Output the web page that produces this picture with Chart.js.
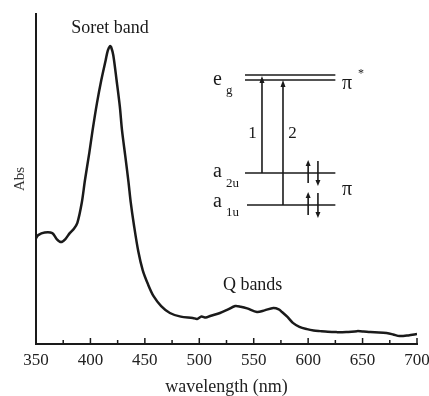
<!DOCTYPE html>
<html>
<head>
<meta charset="utf-8">
<script src="https://cdn.jsdelivr.net/npm/chart.js@4.4.1/dist/chart.umd.min.js"></script>
<style>
  html, body { margin: 0; padding: 0; background: #fff; }
  #wrap { width: 429px; height: 396px; }
</style>
</head>
<body>
<div id="wrap"><canvas id="uvChart"></canvas></div>
<script>
// UV-vis spectrum (Abs in arbitrary units, 0..1)
const wavelengths = [350, 352, 358, 365, 369, 373, 377, 381, 385, 388, 392, 395, 399, 402, 406, 410, 414, 416, 418, 419, 421, 424, 427, 429, 432, 435, 437, 440, 444, 448, 453, 458, 465, 473, 483, 494, 498, 502, 506, 510, 519, 526, 533, 538, 544, 553, 560, 568, 573, 576, 581, 586, 592, 599, 605, 611, 618, 626, 635, 645, 651, 657, 665, 672, 678, 684, 692, 700];
const absValues = [0.32, 0.33, 0.338, 0.336, 0.318, 0.309, 0.318, 0.336, 0.35, 0.367, 0.427, 0.497, 0.58, 0.648, 0.73, 0.80, 0.86, 0.89, 0.903, 0.9, 0.875, 0.80, 0.72, 0.648, 0.57, 0.49, 0.43, 0.36, 0.28, 0.224, 0.18, 0.145, 0.115, 0.094, 0.083, 0.079, 0.076, 0.083, 0.08, 0.085, 0.094, 0.104, 0.115, 0.113, 0.108, 0.097, 0.102, 0.109, 0.105, 0.097, 0.082, 0.064, 0.052, 0.045, 0.041, 0.039, 0.037, 0.036, 0.036, 0.039, 0.038, 0.036, 0.035, 0.033, 0.029, 0.024, 0.026, 0.030];
const xTicks = [350, 400, 450, 500, 550, 600, 650, 700];
const minorTicks = [375, 425, 475, 525, 575, 625, 675];

const serif = "'Liberation Serif', 'DejaVu Serif', serif";
const ink = "#1a1a1a";

// inward ticks on the x axis
const innerTicks = {
  id: "innerTicks",
  afterDraw(chart) {
    const ctx = chart.ctx;
    const xs = chart.scales.x;
    const bottom = chart.chartArea.bottom;
    ctx.save();
    ctx.strokeStyle = ink;
    ctx.lineWidth = 1.5;
    xTicks.forEach(v => {
      const px = xs.getPixelForValue(v);
      ctx.beginPath(); ctx.moveTo(px, bottom); ctx.lineTo(px, bottom - 6); ctx.stroke();
    });
    minorTicks.forEach(v => {
      const px = xs.getPixelForValue(v);
      ctx.beginPath(); ctx.moveTo(px, bottom); ctx.lineTo(px, bottom - 4); ctx.stroke();
    });
    ctx.restore();
  }
};

// text labels + energy level inset, placed in data coordinates
const inset = {
  id: "inset",
  afterDraw(chart) {
    const ctx = chart.ctx;
    const X = v => chart.scales.x.getPixelForValue(v);
    const Y = v => chart.scales.y.getPixelForValue(v);

    ctx.save();
    ctx.fillStyle = ink;
    ctx.strokeStyle = ink;
    ctx.textAlign = "center";
    ctx.textBaseline = "middle";

    ctx.font = "18px " + serif;
    ctx.fillText("Soret band", X(418), Y(0.958));
    ctx.fillText("Q bands", X(549), Y(0.179));

    // levels
    const left = X(542), right = X(625);
    const line = (x1, y1, x2, y2) => {
      ctx.beginPath(); ctx.moveTo(x1, y1); ctx.lineTo(x2, y2); ctx.stroke();
    };
    ctx.lineWidth = 1.6;
    const eg1 = Y(0.815), eg2 = Y(0.80), a2u = Y(0.518), a1u = Y(0.421);
    line(left, eg1, right, eg1);
    line(left, eg2, right, eg2);
    line(left, a2u, right, a2u);
    line(left + 2, a1u, right, a1u);

    const arrowUp = (x, y1, y2, h) => {
      line(x, y1, x, y2 + h);
      ctx.beginPath();
      ctx.moveTo(x, y2); ctx.lineTo(x - 2.5, y2 + h); ctx.lineTo(x + 2.5, y2 + h); ctx.closePath(); ctx.fill();
    };
    const arrowDown = (x, y1, y2, h) => {
      line(x, y1, x, y2 - h);
      ctx.beginPath();
      ctx.moveTo(x, y2); ctx.lineTo(x - 2.5, y2 - h); ctx.lineTo(x + 2.5, y2 - h); ctx.closePath(); ctx.fill();
    };

    // transitions 1 and 2
    arrowUp(X(557.6), a2u, eg1 + 1, 7);
    arrowUp(X(576.9), a1u, eg2, 7);

    // electron pairs
    [a2u, a1u].forEach(yl => {
      arrowUp(X(600), yl + 10, yl - 13, 6);
      arrowDown(X(609), yl - 12, yl + 13, 6);
    });

    // labels
    ctx.textBaseline = "alphabetic";
    ctx.font = "17px " + serif;
    ctx.fillText("1", X(548.9), Y(0.624));
    ctx.fillText("2", X(585.6), Y(0.624));

    ctx.textAlign = "left";
    ctx.font = "20px " + serif;
    ctx.fillText("e", X(512.6), Y(0.785));
    ctx.fillText("a", X(512.6), Y(0.506));
    ctx.fillText("a", X(512.6), Y(0.415));
    ctx.fillText("\u03c0", X(631), Y(0.773));
    ctx.fillText("\u03c0", X(631), Y(0.452));
    ctx.font = "13px " + serif;
    ctx.fillText("g", X(524.5), Y(0.758));
    ctx.fillText("2u", X(524.5), Y(0.476));
    ctx.fillText("1u", X(524.5), Y(0.388));
    ctx.font = "12px " + serif;
    ctx.fillText("*", X(645.8), Y(0.809));
    ctx.restore();
  }
};

const ctx = document.getElementById("uvChart");

new Chart(ctx, {
  type: "line",
  data: {
    labels: wavelengths,
    datasets: [
      {
        label: "Abs",
        data: wavelengths.map((w, i) => ({ x: w, y: absValues[i] })),
        borderColor: ink,
        borderWidth: 2.5,
        pointRadius: 0,
        fill: false,
        tension: 0.3
      }
    ]
  },
  options: {
    responsive: true,
    maintainAspectRatio: false,
    animation: false,
    layout: { padding: { top: 14, right: 12, left: 0, bottom: 0 } },
    plugins: {
      legend: { display: false },
      tooltip: { enabled: false }
    },
    scales: {
      x: {
        type: "linear",
        min: 350,
        max: 700,
        afterBuildTicks: s => { s.ticks = xTicks.map(v => ({ value: v })); },
        afterFit: s => { s.height = 52; s.paddingLeft = 0; s.paddingRight = 0; },
        grid: { display: false, drawTicks: false },
        border: { display: true, color: ink, width: 2 },
        ticks: {
          color: "#222",
          padding: 6,
          maxRotation: 0,
          font: { family: serif, size: 17 }
        },
        title: {
          display: true,
          text: "wavelength (nm)",
          color: "#222",
          padding: { top: 0, bottom: -2.5 },
          font: { family: serif, size: 18 }
        }
      },
      y: {
        min: 0,
        max: 1,
        afterFit: s => { s.width = 36; },
        grid: { display: false, drawTicks: false },
        border: { display: true, color: ink, width: 2 },
        ticks: { display: false },
        title: {
          display: true,
          text: "Abs",
          color: "#333",
          padding: { top: 11, bottom: 0 },
          font: { family: serif, size: 15 }
        }
      }
    }
  },
  plugins: [innerTicks, inset]
});
</script>
</body>
</html>
